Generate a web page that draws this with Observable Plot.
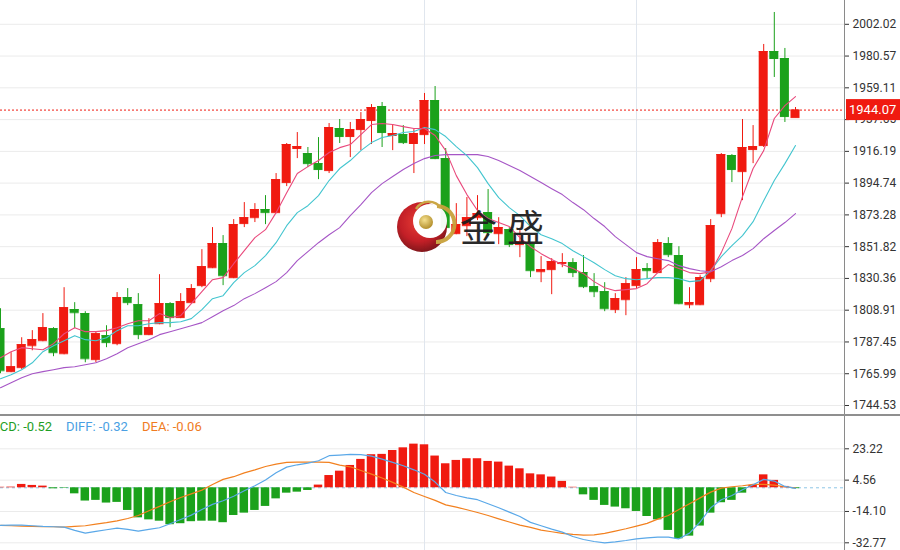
<!DOCTYPE html>
<html><head><meta charset="utf-8">
<script src="https://cdn.jsdelivr.net/npm/d3@7"></script>
<script src="https://cdn.jsdelivr.net/npm/@observablehq/plot@0.6"></script>
<style>
body{margin:0;background:#fff;}
#wrap{position:relative;width:900px;height:550px;overflow:hidden;font-family:Roboto,sans-serif;background:#fff;}
#price{position:absolute;left:0;top:0;}
#macd{position:absolute;left:0;top:415px;}
#sep{position:absolute;left:0;top:414px;width:900px;height:2px;background:#8f8f8f;}
.lg{position:absolute;top:419px;font:13px Roboto,sans-serif;line-height:16px;white-space:pre;}
</style></head><body>
<div id="wrap"><div id="price"></div><div id="macd"></div><div id="sep"></div>
<span class="lg" style="left:-20px;color:#1e9e24">MACD: -0.52</span>
<span class="lg" style="left:66px;color:#4a9fe3">DIFF: -0.32</span>
<span class="lg" style="left:142px;color:#f07b22">DEA: -0.06</span>
</div>
<script>
// ---- data ----
const opens = [1796.4,1767.4,1770.1,1784.9,1788.3,1796.4,1779.5,1809.3,1806.6,1775.5,
1791.7,1786.3,1817.4,1812.6,1792.4,1799.8,1813.3,1803.9,1814.0,1825.5,
1837.6,1853.9,1830.9,1867.4,1871.4,1876.9,1874.8,1895.1,1918.1,1914.7,
1907.9,1903.2,1931.6,1926.2,1930.9,1937.0,1946.5,1926.9,1927.5,1921.5,
1927.5,1950.5,1911.3,1860.6,1866.0,1871.4,1874.8,1860.6,1863.3,1853.2,
1853.2,1834.9,1836.3,1840.4,1841.0,1834.3,1824.8,1821.4,1809.3,1816.0,
1825.5,1837.0,1834.3,1853.9,1845.8,1812.6,1812.6,1830.2,1874.1,1913.4,
1902.5,1917.4,1920.1,1983.6,1978.9,1939.0];
const highs = [1809.9,1780.2,1790.3,1795.1,1806.6,1797.1,1824.1,1814.0,1807.9,1794.4,
1798.4,1820.8,1823.5,1820.1,1803.2,1832.9,1814.0,1820.1,1826.2,1849.8,
1864.7,1859.3,1870.1,1881.6,1880.9,1886.3,1901.2,1921.5,1928.9,1918.8,
1925.5,1935.0,1937.7,1935.7,1942.4,1947.8,1949.2,1934.3,1933.6,1930.9,
1955.3,1960.0,1918.1,1880.9,1885.0,1886.3,1890.4,1871.4,1864.7,1862.7,
1853.9,1845.1,1843.7,1847.1,1843.7,1845.8,1833.6,1827.5,1820.1,1830.9,
1844.4,1840.4,1856.6,1857.9,1851.8,1824.1,1832.2,1870.1,1914.7,1914.0,
1937.7,1933.6,1988.4,2010.0,1985.7,1945.8];
const lows = [1766.0,1766.7,1768.7,1781.5,1787.6,1777.5,1778.8,1796.4,1773.4,1773.4,
1783.6,1784.9,1812.0,1789.0,1791.7,1799.1,1797.1,1803.2,1813.3,1824.1,
1837.0,1825.5,1830.2,1864.7,1868.1,1866.7,1874.1,1892.4,1911.3,1905.2,
1897.1,1901.2,1921.5,1912.0,1916.7,1920.8,1918.8,1916.7,1920.8,1901.2,
1920.8,1910.6,1864.0,1859.9,1858.6,1869.4,1858.6,1853.2,1851.2,1844.4,
1830.9,1827.5,1819.4,1837.6,1830.9,1823.5,1817.4,1807.9,1806.6,1805.2,
1823.5,1830.2,1833.6,1844.4,1812.6,1809.9,1812.0,1827.5,1871.4,1895.1,
1882.9,1907.9,1918.8,1966.1,1935.7,1939.0];
const closes = [1768.0,1770.7,1785.6,1789.0,1797.1,1780.2,1810.6,1807.2,1776.1,1793.0,
1787.0,1817.4,1814.0,1792.4,1797.1,1813.3,1803.9,1814.7,1823.5,1838.3,
1853.9,1832.2,1866.7,1871.4,1876.9,1874.8,1897.1,1920.8,1919.4,1907.9,
1903.9,1932.3,1926.2,1930.9,1937.7,1945.8,1928.9,1928.2,1922.1,1928.2,
1950.5,1911.3,1864.7,1866.7,1871.4,1874.1,1861.3,1864.7,1853.2,1855.2,
1835.6,1836.3,1841.7,1841.0,1834.3,1824.8,1821.4,1809.9,1816.7,1826.8,
1836.3,1835.6,1854.5,1846.4,1813.3,1814.0,1830.9,1866.0,1914.0,1903.9,
1918.8,1919.4,1983.6,1978.9,1939.7,1944.07];
const ma5 = [1776.8,1780.9,1783.6,1782.9,1782.2,1786.3,1793.0,1797.1,1794.4,1794.4,
1795.1,1797.1,1799.8,1801.8,1801.8,1806.6,1803.9,1805.2,1813.3,1821.4,
1829.5,1830.9,1840.3,1849.1,1857.9,1863.3,1874.8,1888.3,1901.2,1905.9,
1910.0,1915.4,1918.7,1920.8,1927.5,1934.3,1935.0,1934.3,1932.9,1931.6,
1931.6,1926.9,1916.7,1899.8,1887.0,1876.2,1870.8,1868.1,1865.4,1857.9,
1851.8,1847.1,1843.1,1839.7,1837.0,1833.6,1828.2,1824.1,1822.1,1822.8,
1823.5,1826.8,1834.3,1839.7,1837.0,1834.3,1833.6,1834.9,1847.8,1864.0,
1885.6,1904.6,1916.7,1938.4,1947.1,1953.2];
const ma10 = [1762.6,1765.3,1768.7,1773.4,1780.9,1784.9,1788.3,1791.7,1789.0,1788.3,
1790.3,1795.1,1798.4,1798.4,1799.8,1800.5,1800.5,1801.1,1803.2,1809.3,
1816.7,1818.7,1827.5,1834.3,1839.0,1845.8,1854.5,1866.0,1874.8,1879.5,
1886.3,1896.5,1904.6,1910.0,1916.7,1922.1,1925.5,1926.9,1928.9,1929.6,
1932.3,1930.9,1926.2,1919.4,1913.3,1905.2,1894.4,1884.9,1878.2,1872.8,
1865.4,1859.9,1857.2,1853.9,1849.1,1845.1,1841.0,1836.3,1832.2,1830.2,
1829.5,1830.2,1830.9,1830.9,1830.2,1828.2,1828.9,1835.6,1845.1,1852.5,
1859.3,1868.7,1882.9,1896.5,1907.9,1920.1];
const ma20 = [1756.5,1759.9,1763.3,1766.0,1767.4,1768.7,1770.1,1770.7,1772.1,1773.4,
1776.1,1779.5,1783.6,1786.3,1789.0,1792.4,1794.4,1796.4,1798.4,1800.5,
1804.5,1808.6,1812.0,1816.7,1820.1,1824.1,1828.2,1834.3,1842.4,1848.5,
1854.5,1859.9,1864.7,1872.8,1880.2,1888.3,1894.4,1899.2,1903.9,1908.0,
1911.3,1913.4,1914.0,1914.0,1914.0,1914.0,1912.7,1910.0,1906.6,1903.2,
1899.2,1895.1,1891.0,1887.0,1881.6,1876.8,1870.8,1865.4,1858.6,1853.2,
1847.8,1845.1,1843.7,1842.4,1839.0,1837.0,1835.6,1834.9,1838.3,1842.4,
1845.8,1850.5,1857.2,1862.7,1868.1,1874.1];
const macdHist = [0.3,0.4,2.0,1.4,1.0,-0.6,-0.3,-3.6,-7.9,-7.5,
-9.1,-8.7,-13.5,-17.9,-19.1,-19.9,-22.0,-21.4,-20.2,-19.9,
-19.9,-20.8,-16.5,-15.1,-13.5,-11.1,-6.6,-3.2,-2.6,-1.6,
1.6,7.3,9.9,13.3,16.9,19.7,19.9,22.2,23.8,26.0,
25.6,18.9,14.3,16.3,17.3,17.3,15.7,15.3,12.9,11.3,
8.3,7.7,6.4,3.8,0.3,-4.2,-7.5,-10.5,-11.5,-12.5,
-14.1,-17.1,-19.1,-25.4,-30.4,-28.8,-22.8,-15.1,-8.9,-7.5,
-3.2,1.4,7.7,4.4,0.8,-0.52];
const diff = [-22.4,-22.2,-22.2,-22.6,-23.0,-23.2,-23.4,-25.4,-27.0,-26.0,
-25.0,-24.0,-24.8,-25.8,-24.8,-23.8,-21.4,-18.9,-16.3,-12.9,
-9.9,-7.7,-5.0,-1.8,1.2,4.6,8.9,12.3,13.7,14.7,
16.1,19.1,19.5,19.9,19.7,18.9,17.1,15.1,13.1,10.7,
8.1,3.4,-2.8,-4.6,-6.0,-7.1,-9.5,-11.9,-14.5,-17.1,
-20.6,-22.6,-24.6,-26.4,-29.0,-30.8,-32.0,-32.8,-32.2,-31.4,
-30.4,-29.8,-29.4,-29.4,-30.4,-27.0,-20.4,-11.9,-7.1,-4.6,
-1.2,1.8,5.0,4.0,0.8,-0.32];
const dea = [-22.4,-22.6,-22.8,-23.0,-23.2,-23.2,-23.4,-23.0,-22.6,-21.6,
-20.8,-19.7,-18.3,-16.5,-13.7,-11.1,-8.3,-5.8,-3.6,-1.4,
2.0,5.0,6.6,8.9,10.7,12.7,14.1,15.1,15.3,15.3,
15.3,15.1,13.5,12.5,10.3,8.1,5.8,3.2,0.4,-2.8,
-5.2,-7.5,-10.2,-11.5,-13.1,-14.7,-16.5,-18.5,-20.4,-22.2,
-23.6,-25.2,-26.2,-27.2,-27.8,-28.2,-28.0,-27.2,-25.8,-24.4,
-22.8,-21.2,-18.7,-16.5,-12.9,-9.5,-6.0,-2.6,-0.2,0.6,
1.2,2.0,2.0,1.6,0.6,-0.06];
const priceTicks = [2002.02,1980.57,1959.11,1937.65,1916.19,1894.74,1873.28,1851.82,1830.36,1808.91,1787.45,1765.99,1744.53];
const macdTicks = [23.22,4.56,-14.10,-32.77];
const lastPrice = 1944.07;
const periodLines = [40,60];
const watermarkText = "金盛";

// ---- styles ----
const RED = "#f01a10", GREEN = "#1ba11b";
const C_MA5 = "#e9497c", C_MA10 = "#43c5cf", C_MA20 = "#a656c6";
const C_DIFF = "#5aa8e8", C_DEA = "#f2801f";
const GRID = "#ebebeb", VLINE = "#e0e6ee", AXIS = "#8a8a8a";
const xDomain = [0, 844/10.6];
const HALF = 0.425;

const candles = opens.map((o,i)=>({i, o, h:highs[i], l:lows[i], c:closes[i], col: closes[i]>=o ? RED : GREEN}));
const toPts = arr => arr.map((v,i)=>({i,v}));
const axisStyle = {fontSize:"12px", fontFamily:"Roboto, sans-serif", color:"#333", background:"transparent", overflow:"visible"};

const priceChart = Plot.plot({
  width:900, height:415, marginLeft:0, marginRight:56, marginTop:0, marginBottom:0,
  style: axisStyle,
  x:{domain:xDomain, axis:null},
  y:{domain:[1744.53,2002.02], range:[405,23.8], axis:"right", ticks:priceTicks, tickFormat:d=>d.toFixed(2), tickSize:4, tickPadding:4, label:null},
  color:{type:"identity"},
  marks:[
    Plot.ruleY(priceTicks,{stroke:GRID}),
    Plot.ruleX(periodLines,{stroke:VLINE}),
    Plot.ruleY([lastPrice],{stroke:RED, strokeDasharray:"2,2"}),
    Plot.ruleX(candles,{x:"i", y1:"l", y2:"h", stroke:"col", strokeWidth:1}),
    Plot.rect(candles,{x1:d=>d.i-HALF, x2:d=>d.i+HALF, y1:"o", y2:"c", fill:"col"}),
    Plot.ruleY(candles,{y:"o", x1:d=>d.i-HALF, x2:d=>d.i+HALF, stroke:"col"}),
    Plot.ruleY(candles,{y:"c", x1:d=>d.i-HALF, x2:d=>d.i+HALF, stroke:"col"}),
    Plot.line(toPts(ma20),{x:"i", y:"v", stroke:C_MA20, strokeWidth:1.1}),
    Plot.line(toPts(ma10),{x:"i", y:"v", stroke:C_MA10, strokeWidth:1.1}),
    Plot.line(toPts(ma5),{x:"i", y:"v", stroke:C_MA5, strokeWidth:1.1}),
    Plot.ruleX([xDomain[1]],{stroke:AXIS})
  ]
});
document.getElementById("price").appendChild(priceChart);

// last price label + watermark
{
  const svg = d3.select(priceChart);
  const y = priceChart.scale("y").apply(lastPrice);
  const g = svg.append("g").attr("text-anchor","start");
  g.append("rect").attr("x",846).attr("y",y-10.5).attr("width",54).attr("height",21).attr("fill",RED);
  g.append("text").attr("x",849).attr("y",y).attr("dy","0.35em").attr("fill","#fff")
    .attr("font-size",13).attr("font-family","Roboto, sans-serif").text(lastPrice.toFixed(2));

  const defs = svg.append("defs");
  const rg = defs.append("radialGradient").attr("id","wmRed").attr("cx","45%").attr("cy","40%").attr("r","60%");
  rg.append("stop").attr("offset","0%").attr("stop-color","#e8322a");
  rg.append("stop").attr("offset","65%").attr("stop-color","#c0141c");
  rg.append("stop").attr("offset","100%").attr("stop-color","#7c0a10");
  const gg = defs.append("radialGradient").attr("id","wmGold").attr("cx","40%").attr("cy","35%").attr("r","65%");
  gg.append("stop").attr("offset","0%").attr("stop-color","#f6e08a");
  gg.append("stop").attr("offset","100%").attr("stop-color","#b08a22");
  const wm = svg.append("g").attr("opacity",0.95).attr("text-anchor","start");
  wm.append("circle").attr("cx",422).attr("cy",227).attr("r",25).attr("fill","url(#wmRed)");
  wm.append("circle").attr("cx",430).attr("cy",221).attr("r",17).attr("fill","#fff");
  wm.append("path").attr("d","M437,206 A16,16 0 0 1 436,242").attr("fill","none").attr("stroke","#c9a23c").attr("stroke-width",4);
  wm.append("path").attr("d","M416,209 A15,15 0 0 1 441,208").attr("fill","none").attr("stroke","#c9a23c").attr("stroke-width",2.5);
  wm.append("circle").attr("cx",426).attr("cy",222).attr("r",7).attr("fill","url(#wmGold)");
  wm.append("text").attr("x",460).attr("y",242).attr("font-size",37).attr("letter-spacing","10px")
    .attr("font-family","'Noto Sans CJK SC', sans-serif").attr("fill","#1e1e1e").text(watermarkText);
}

const hist = macdHist.map((v,i)=>({i, v, col: v>=0 ? RED : GREEN}));
const macdChart = Plot.plot({
  width:900, height:135, marginLeft:0, marginRight:56, marginTop:0, marginBottom:0,
  style: axisStyle,
  x:{domain:xDomain, axis:null},
  y:{domain:[-32.77,23.22], range:[127.3,33.3], axis:"right", ticks:macdTicks, tickFormat:d=>d.toFixed(2), tickSize:4, tickPadding:4, label:null},
  color:{type:"identity"},
  marks:[
    Plot.ruleY(macdTicks,{stroke:GRID}),
    Plot.ruleX(periodLines,{stroke:VLINE}),
    Plot.ruleY([0],{stroke:"#8fc6e6", strokeDasharray:"3,3"}),
    Plot.rect(hist,{x1:d=>d.i-0.4, x2:d=>d.i+0.4, y1:0, y2:"v", fill:"col"}),
    Plot.line(toPts(dea),{x:"i", y:"v", stroke:C_DEA, strokeWidth:1.2}),
    Plot.line(toPts(diff),{x:"i", y:"v", stroke:C_DIFF, strokeWidth:1.2}),
    Plot.ruleX([xDomain[1]],{stroke:AXIS})
  ]
});
document.getElementById("macd").appendChild(macdChart);
</script>
</body></html>
